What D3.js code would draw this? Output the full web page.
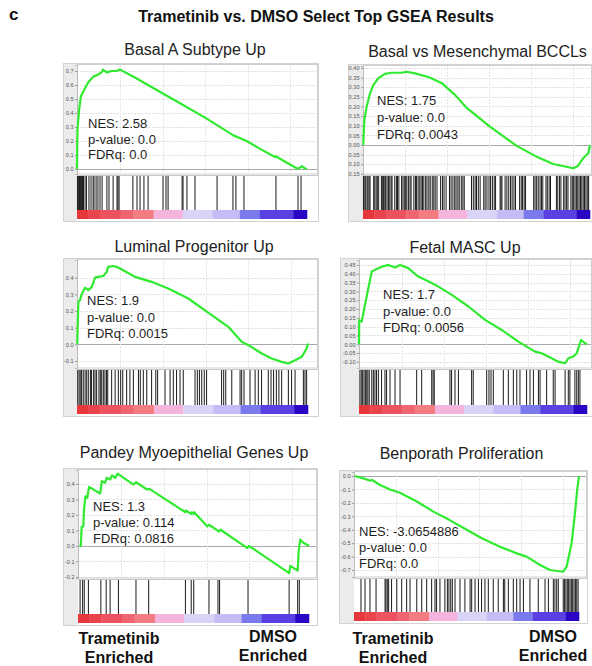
<!DOCTYPE html>
<html><head><meta charset="utf-8">
<script src="https://cdn.jsdelivr.net/npm/d3@7"></script>
<style>
body{margin:0;background:#fff;}
svg{display:block;font-family:"Liberation Sans",Arial,Helvetica,sans-serif;}
</style>
</head><body>
<svg id="chart" width="592" height="666"></svg>
<script>
// ---------------- DATA ----------------
const figureLetter = "c";
const figureTitle = "Trametinib vs. DMSO Select Top GSEA Results";
const panelTitles = ["Basal A Subtype Up", "Basal vs Mesenchymal BCCLs", "Luminal Progenitor Up",
                     "Fetal MASC Up", "Pandey Myoepithelial Genes Up", "Benporath Proliferation"];
const nesValues = ["2.58", "1.75", "1.9", "1.7", "1.3", "-3.0654886"];
const pValues = ["0.0", "0.0", "0.0", "0.0", "0.114", "0.0"];
const fdrValues = ["0.0", "0.0043", "0.0015", "0.0056", "0.0816", "0.0"];
const leftEndLabel = ["Trametinib", "Enriched"];
const rightEndLabel = ["DMSO", "Enriched"];

// y tick values per panel
const ticks1 = [0, 0.1, 0.2, 0.3, 0.4, 0.5, 0.6, 0.7];
const ticks2 = [-0.15, -0.10, -0.05, 0, 0.05, 0.10, 0.15, 0.20, 0.25, 0.30, 0.35, 0.40];
const ticks3 = [-0.1, 0, 0.1, 0.2, 0.3, 0.4];
const ticks4 = [-0.10, -0.05, 0, 0.05, 0.10, 0.15, 0.20, 0.25, 0.30, 0.35, 0.40, 0.45];
const ticks5 = [-0.2, -0.1, 0, 0.1, 0.2, 0.3, 0.4];
const ticks6 = [-0.7, -0.6, -0.5, -0.4, -0.3, -0.2, -0.1, 0];

// running enrichment score: [rank fraction, ES]
const curve1 = [[0,0],[0.002,0.28],[0.009,0.42],[0.017,0.52],[0.036,0.58],[0.049,0.62],[0.071,0.66],[0.086,0.67],
  [0.107,0.69],[0.113,0.71],[0.129,0.69],[0.151,0.70],[0.172,0.70],[0.187,0.71],[0.25,0.655],[0.335,0.575],
  [0.448,0.47],[0.564,0.36],[0.68,0.24],[0.738,0.20],[0.80,0.14],[0.861,0.085],[0.868,0.09],[0.875,0.08],
  [0.955,0.005],[0.965,0.005],[0.977,0.02],[0.99,0.005],[1.0,0.0]];
const curve2 = [[0.001,0],[0.006,0.13],[0.016,0.198],[0.031,0.268],[0.046,0.312],[0.068,0.347],[0.097,0.369],
  [0.126,0.375],[0.170,0.375],[0.192,0.38],[0.229,0.372],[0.288,0.353],[0.346,0.322],[0.405,0.26],[0.457,0.192],
  [0.559,0.095],[0.677,-0.005],[0.758,-0.057],[0.838,-0.099],[0.926,-0.121],[0.947,-0.109],[0.970,-0.069],
  [0.993,-0.042],[1.0,0.0]];
const curve3 = [[0.001,0],[0.003,0.105],[0.006,0.255],[0.013,0.265],[0.020,0.30],[0.035,0.34],[0.049,0.325],
  [0.064,0.345],[0.078,0.40],[0.092,0.405],[0.114,0.41],[0.129,0.435],[0.135,0.465],[0.157,0.47],[0.172,0.465],
  [0.251,0.405],[0.323,0.375],[0.395,0.335],[0.482,0.275],[0.583,0.175],[0.655,0.105],[0.713,0.015],
  [0.742,-0.005],[0.80,-0.055],[0.843,-0.085],[0.886,-0.105],[0.915,-0.115],[0.944,-0.095],[0.973,-0.075],
  [0.994,-0.025],[1.0,0.005]];
const curve4 = [[0,0],[0.001,0.137],[0.012,0.128],[0.026,0.223],[0.041,0.318],[0.056,0.413],[0.070,0.422],
  [0.100,0.44],[0.129,0.45],[0.158,0.435],[0.180,0.45],[0.216,0.432],[0.260,0.384],[0.319,0.347],[0.348,0.327],
  [0.407,0.28],[0.480,0.214],[0.553,0.138],[0.626,0.081],[0.699,0.015],[0.772,-0.042],[0.801,-0.051],
  [0.845,-0.08],[0.874,-0.099],[0.904,-0.108],[0.918,-0.08],[0.940,-0.07],[0.955,-0.051],[0.974,0.024],
  [0.991,0.006],[1.0,0]];
const curve5 = [[0.006,0],[0.012,0],[0.016,0.125],[0.023,0.125],[0.026,0.234],[0.032,0.32],[0.040,0.31],
  [0.048,0.381],[0.096,0.338],[0.103,0.418],[0.117,0.407],[0.125,0.44],[0.139,0.429],[0.147,0.455],
  [0.161,0.44],[0.171,0.466],[0.240,0.396],[0.251,0.411],[0.299,0.364],[0.309,0.368],[0.465,0.217],
  [0.467,0.228],[0.490,0.206],[0.492,0.216],[0.501,0.207],[0.503,0.217],[0.56,0.125],[0.567,0.136],
  [0.61,0.093],[0.617,0.104],[0.733,-0.015],[0.74,0.0],[0.914,-0.177],[0.919,-0.13],[0.951,-0.16],
  [0.955,-0.037],[0.962,0.04],[0.975,0.02],[1.0,0.0]];
const curve6 = [[0.004,0],[0.056,-0.025],[0.071,-0.035],[0.08,-0.03],[0.116,-0.067],[0.16,-0.10],[0.204,-0.124],
  [0.279,-0.19],[0.353,-0.265],[0.427,-0.33],[0.501,-0.40],[0.57,-0.465],[0.649,-0.527],[0.723,-0.576],
  [0.767,-0.60],[0.827,-0.663],[0.871,-0.70],[0.93,-0.713],[0.945,-0.675],[0.967,-0.50],[0.982,-0.278],
  [0.992,-0.104],[1.0,0]];

// gene-set hit positions (rank fraction)
const hits1 = [0.002,0.007,0.011,0.015,0.02,0.024,0.028,0.035,0.041,0.052,0.061,0.07,0.074,0.083,0.091,0.1,0.109,
  0.13,0.139,0.157,0.174,0.178,0.183,0.243,0.261,0.274,0.291,0.309,0.374,0.387,0.396,0.457,0.461,0.478,0.513,
  0.609,0.678,0.691,0.726,0.865,0.961,0.974];
const hits2 = [0.002,0.008,0.012,0.018,0.022,0.027,0.031,0.047,0.052,0.058,0.063,0.069,0.081,
  0.085,0.090,0.096,0.100,0.106,0.112,0.118,0.124,0.128,0.140,0.147,0.152,0.158,0.170,0.176,0.182,
  0.188,0.193,0.200,0.207,0.212,0.224,0.231,0.236,0.243,0.250,0.256,0.262,0.268,0.276,0.282,0.290,0.296,
  0.305,0.312,0.318,0.326,0.342,0.350,0.357,0.366,0.381,0.388,0.396,0.404,0.410,0.418,0.424,0.433,
  0.440,0.446,0.478,0.486,0.494,0.500,0.508,0.516,0.532,0.538,0.546,0.555,0.562,0.570,
  0.578,0.584,0.604,0.608,0.612,0.626,0.634,0.642,0.650,0.657,0.665,0.672,0.690,0.697,
  0.703,0.710,0.716,0.752,0.758,0.765,0.772,0.780,0.786,0.792,0.806,0.812,0.820,
  0.826,0.852,0.858,0.866,0.872,0.884,0.890,0.897,0.903,0.916,0.922,0.928,0.934,
  0.940,0.946,0.952,0.958,0.964,0.970,0.976,0.982,0.988,0.994];
const hits3 = [0.003,0.009,0.014,0.020,0.027,0.035,0.042,0.049,0.058,0.063,0.072,0.078,0.085,0.095,0.101,0.107,
  0.114,0.121,0.128,0.133,0.150,0.165,0.179,0.189,0.198,0.215,0.229,0.244,0.266,0.274,0.287,0.302,0.323,0.341,
  0.349,0.381,0.403,0.417,0.431,0.446,0.460,0.511,0.521,0.530,0.540,0.551,0.561,0.626,0.635,0.644,0.670,0.706,
  0.713,0.723,0.749,0.771,0.785,0.799,0.828,0.840,0.851,0.863,0.874,0.886,0.915,0.929,0.944,0.980,0.987,0.994];
const hits4 = [0.004,0.010,0.016,0.022,0.028,0.034,0.039,0.045,0.056,0.063,0.070,0.077,0.085,0.099,0.114,0.121,
  0.136,0.158,0.180,0.253,0.275,0.319,0.325,0.330,0.399,0.406,0.421,0.436,0.494,0.501,0.560,0.570,0.579,0.589,
  0.633,0.655,0.677,0.692,0.706,0.735,0.750,0.765,0.787,0.794,0.823,0.852,0.860,0.904,0.918,0.925,0.947,0.955,
  0.962,0.969];
const hits5 = [0.009,0.020,0.027,0.045,0.099,0.122,0.139,0.175,0.251,0.306,0.465,0.490,0.501,0.567,0.606,0.613,
  0.736,0.914,0.951,0.958];
const hits6 = [0.031,0.049,0.071,0.098,0.138,0.142,0.148,0.154,0.167,0.190,0.212,0.234,0.249,0.279,0.301,0.323,
  0.345,0.360,0.367,0.382,0.404,0.415,0.422,0.430,0.437,0.449,0.471,0.493,0.516,0.523,0.538,0.553,0.567,0.582,
  0.597,0.619,0.641,0.664,0.670,0.686,0.708,0.723,0.738,0.753,0.782,0.819,0.849,0.864,0.886,0.893,0.901,0.908,
  0.930,0.936,0.942,0.948,0.954,0.960,0.966,0.972,0.978,0.984,0.990,0.996];

// ranked-list colour bar: segment starts (rank fraction) and colours
const barStops = [0, 0.05, 0.10, 0.19, 0.245, 0.333, 0.46, 0.59, 0.708, 0.795, 0.94, 1.0];
const barColors = ["#e5373c","#e9434c","#ec5260","#ef6670","#f27c80","#f4b4dc","#d8d4f8","#c4bcf4",
                   "#7b79ee","#5a3fe3","#2a06c4"];
// vertical grid positions (rank fraction)
const vGrid = [0.187, 0.372, 0.557, 0.742, 0.927];

// ---------------- LAYOUT ----------------
const layouts = [
  {fl:63, pl:77, dr:307, fr:319, top:65, bot:174, hb:210, cb:219, fb:221, yd:[-0.036,0.743],
   tx:195, ty:55, sx:88, sy:128, sd:15.5, fmt:d=>d3.format(".1f")(d)},
  {fl:348, pl:363, dr:590, fr:593, top:66, bot:174, hb:210, cb:219, fb:221, yd:[-0.151,0.410],
   tx:477.5, ty:57, sx:377, sy:105, sd:17, fmt:d=>d3.format(".2f")(Math.abs(d))},
  {fl:63, pl:77, dr:308, fr:319, top:260, bot:368, hb:405, cb:414, fb:416, yd:[-0.142,0.506],
   tx:194, ty:252, sx:87, sy:305, sd:16.5, fmt:d=>d3.format(".1f")(d).replace("−","-")},
  {fl:340, pl:359, dr:587, fr:593, top:260, bot:368, hb:405, cb:414, fb:416, yd:[-0.135,0.478],
   tx:465, ty:253, sx:383, sy:299, sd:16.5, fmt:d=>d3.format(".2f")(d).replace("−","-")},
  {fl:63, pl:78, dr:309, fr:318, top:470, bot:578, hb:614, cb:623, fb:625, yd:[-0.208,0.49],
   tx:194, ty:458, sx:93, sy:511, sd:16, fmt:d=>d3.format(".1f")(d).replace("−","-")},
  {fl:339, pl:354, dr:579, fr:588, top:472, bot:577, hb:612, cb:621, fb:623, yd:[-0.752,0.03],
   tx:461.5, ty:459, sx:359, sy:536, sd:16, fmt:d=>d3.format(".1f")(d).replace("−","-")}
];
const curves = [curve1, curve2, curve3, curve4, curve5, curve6];
const hitsAll = [hits1, hits2, hits3, hits4, hits5, hits6];
const tickSets = [ticks1, ticks2, ticks3, ticks4, ticks5, ticks6];

// ---------------- DRAW ----------------
const svg = d3.select("#chart");
svg.append("text").attr("x", 9).attr("y", 20).attr("font-size", 17).attr("font-weight", "bold")
  .attr("fill", "#111").text(figureLetter);
svg.append("text").attr("x", 316).attr("y", 22).attr("text-anchor", "middle").attr("font-size", 16)
  .attr("font-weight", "bold").attr("fill", "#111").text(figureTitle);

layouts.forEach((L, i) => {
  const g = svg.append("g");
  const x = d3.scaleLinear().domain([0, 1]).range([L.pl, L.dr]);
  const y = d3.scaleLinear().domain(L.yd).range([L.bot, L.top]);

  // title
  g.append("text").attr("x", L.tx).attr("y", L.ty).attr("text-anchor", "middle")
    .attr("font-size", 16).attr("fill", "#222").text(panelTitles[i]);

  // frame + grey axis band
  g.append("rect").attr("x", L.fl + 0.5).attr("y", L.top - 1.5).attr("width", L.fr - L.fl - 1)
    .attr("height", L.fb - L.top + 2).attr("fill", "#fff").attr("stroke", "#d2d2d2");
  g.append("rect").attr("x", L.fl + 1).attr("y", L.top - 1).attr("width", L.pl - L.fl - 1)
    .attr("height", L.fb - L.top + 1).attr("fill", "#ebebeb");

  // grid
  g.selectAll(".hg").data(tickSets[i]).join("line")
    .attr("x1", L.pl).attr("x2", L.fr - 1).attr("y1", d => Math.round(y(d)) + 0.5).attr("y2", d => Math.round(y(d)) + 0.5)
    .attr("stroke", d => Math.abs(d) < 1e-9 ? "#a8a8a8" : "#e2e2e2")
    .attr("stroke-dasharray", d => Math.abs(d) < 1e-9 ? null : "2,1");
  g.selectAll(".vg").data(vGrid).join("line")
    .attr("x1", d => Math.round(x(d)) + 0.5).attr("x2", d => Math.round(x(d)) + 0.5)
    .attr("y1", L.top).attr("y2", L.bot).attr("stroke", "#e6e6e6").attr("stroke-dasharray", "2,1");

  // plot borders
  g.append("rect").attr("x", L.pl + 0.5).attr("y", L.top - 0.5).attr("width", L.fr - L.pl - 2)
    .attr("height", L.bot - L.top + 0.5).attr("fill", "none").attr("stroke", "#cfcfcf");
  g.append("line").attr("x1", L.pl).attr("x2", L.fr - 1).attr("y1", L.bot + 1.5).attr("y2", L.bot + 1.5)
    .attr("stroke", "#c8c8c8");

  // y axis
  const ax = g.append("g").attr("transform", `translate(${L.pl},0)`)
    .call(d3.axisLeft(y).tickValues(tickSets[i]).tickFormat(L.fmt).tickSize(2).tickPadding(1.5));
  ax.select(".domain").attr("stroke", "#bbb");
  ax.selectAll(".tick line").attr("stroke", "#999");
  ax.selectAll("text").attr("font-size", 5.6).attr("fill", "#555")
    .attr("font-family", "'Liberation Sans',Arial,sans-serif");

  // hits
  g.selectAll(".hit").data(hitsAll[i]).join("line")
    .attr("x1", d => x(d)).attr("x2", d => x(d)).attr("y1", L.bot + 2).attr("y2", L.hb)
    .attr("stroke", "#1a1a1a").attr("stroke-width", 1);

  // colour bar
  const segs = barColors.map((c, k) => ({a: barStops[k], b: barStops[k + 1], c}));
  g.selectAll(".seg").data(segs).join("rect")
    .attr("x", d => x(d.a)).attr("width", d => x(d.b) - x(d.a) + 0.3)
    .attr("y", L.hb).attr("height", L.cb - L.hb).attr("fill", d => d.c);

  // ES curve
  g.append("path").datum(curves[i])
    .attr("d", d3.line().x(d => x(d[0])).y(d => y(d[1])))
    .attr("fill", "none").attr("stroke", "#30ea30").attr("stroke-width", 2.2)
    .attr("stroke-linejoin", "round");

  // stats
  const stats = ["NES: " + nesValues[i], "p-value: " + pValues[i], "FDRq: " + fdrValues[i]];
  g.selectAll(".st").data(stats).join("text")
    .attr("x", L.sx).attr("y", (d, k) => L.sy + k * L.sd)
    .attr("font-size", 13).attr("fill", "#1e1e1e").text(d => d);
});

// end labels
const endCenters = [[119, 273], [393, 553]];
endCenters.forEach(([lx, rx]) => {
  leftEndLabel.forEach((t, k) => svg.append("text").attr("x", lx).attr("y", 644 + k * 19)
    .attr("text-anchor", "middle").attr("font-size", 16).attr("font-weight", "bold").attr("fill", "#111").text(t));
  rightEndLabel.forEach((t, k) => svg.append("text").attr("x", rx).attr("y", 642 + k * 18.5)
    .attr("text-anchor", "middle").attr("font-size", 16).attr("font-weight", "bold").attr("fill", "#111").text(t));
});
</script>
</body></html>
